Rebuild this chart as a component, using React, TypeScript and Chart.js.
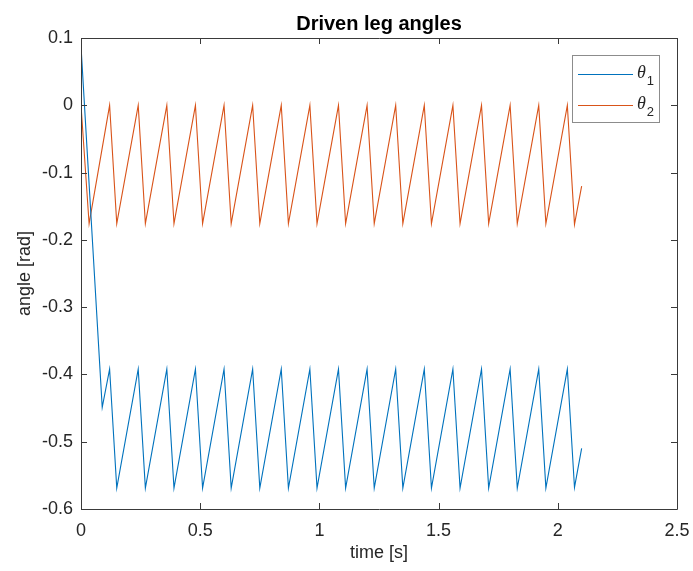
import React, { useEffect, useRef } from "react";
import { Chart, registerables } from "chart.js";

Chart.register(...registerables);

// ---- data ----
const theta1Time = [
  0, 0.089, 0.12, 0.15, 0.24, 0.27, 0.36, 0.39, 0.48, 0.51, 0.6, 0.63, 0.72, 0.75,
  0.84, 0.87, 0.96, 0.99, 1.08, 1.11, 1.2, 1.23, 1.32, 1.35, 1.44, 1.47, 1.56, 1.59,
  1.68, 1.71, 1.8, 1.83, 1.92, 1.95, 2.04, 2.07, 2.1,
];
const theta1Values = [
  0.088, -0.449, -0.392, -0.569, -0.392, -0.569, -0.392, -0.569, -0.392, -0.569,
  -0.392, -0.569, -0.392, -0.569, -0.392, -0.569, -0.392, -0.569, -0.392, -0.569,
  -0.392, -0.569, -0.392, -0.569, -0.392, -0.569, -0.392, -0.569, -0.392, -0.569,
  -0.392, -0.569, -0.392, -0.569, -0.392, -0.568, -0.51,
];
const theta2Time = [
  0, 0.034, 0.12, 0.15, 0.24, 0.27, 0.36, 0.39, 0.48, 0.51, 0.6, 0.63, 0.72, 0.75,
  0.84, 0.87, 0.96, 0.99, 1.08, 1.11, 1.2, 1.23, 1.32, 1.35, 1.44, 1.47, 1.56, 1.59,
  1.68, 1.71, 1.8, 1.83, 1.92, 1.95, 2.04, 2.07, 2.1,
];
const theta2Values = [
  0, -0.176, 0, -0.176, 0, -0.176, 0, -0.176, 0, -0.176, 0, -0.176, 0, -0.176, 0,
  -0.176, 0, -0.176, 0, -0.176, 0, -0.176, 0, -0.176, 0, -0.176, 0, -0.176, 0,
  -0.176, 0, -0.176, 0, -0.176, 0, -0.177, -0.12,
];

const xTicks = [0, 0.5, 1, 1.5, 2, 2.5];
const xTickLabels = ["0", "0.5", "1", "1.5", "2", "2.5"];
const yTicks = [-0.6, -0.5, -0.4, -0.3, -0.2, -0.1, 0, 0.1];
const yTickLabels = ["-0.6", "-0.5", "-0.4", "-0.3", "-0.2", "-0.1", "0", "0.1"];

const seriesNames = ["θ", "θ"];
const seriesSubscripts = ["1", "2"];
const seriesColors = ["#0072BD", "#D95319"];

const titleText = "Driven leg angles";
const xTitle = "time [s]";
const yTitle = "angle [rad]";

const FONT = '"Liberation Sans", Arial, Helvetica, sans-serif';
const TEXT = "#262626";

const decorPlugin = {
  id: "matlabDecor",
  afterDraw(chart: any) {
    const ctx = chart.ctx as CanvasRenderingContext2D;
    const { left, top, right, bottom } = chart.chartArea;
    const xs = chart.scales.x;
    const ys = chart.scales.y;
    ctx.save();
    // axes box
    ctx.strokeStyle = "#3a3a3a";
    ctx.lineWidth = 1;
    ctx.beginPath();
    ctx.rect(Math.round(left) + 0.5, Math.round(top) + 0.5, Math.round(right - left), Math.round(bottom - top));
    ctx.stroke();
    // inward ticks
    const tl = 6;
    ctx.beginPath();
    xTicks.forEach((v) => {
      const px = Math.round(xs.getPixelForValue(v)) + 0.5;
      ctx.moveTo(px, bottom);
      ctx.lineTo(px, bottom - tl);
      ctx.moveTo(px, top);
      ctx.lineTo(px, top + tl);
    });
    yTicks.forEach((v) => {
      const py = Math.round(ys.getPixelForValue(v)) + 0.5;
      ctx.moveTo(left, py);
      ctx.lineTo(left + tl, py);
      ctx.moveTo(right, py);
      ctx.lineTo(right - tl, py);
    });
    ctx.stroke();

    // title
    ctx.fillStyle = "#000";
    ctx.font = `bold 20px ${FONT}`;
    ctx.textAlign = "center";
    ctx.textBaseline = "alphabetic";
    ctx.fillText(titleText, (left + right) / 2, 30);

    // axis titles
    ctx.fillStyle = TEXT;
    ctx.font = `18px ${FONT}`;
    ctx.textBaseline = "middle";
    ctx.fillText(xTitle, (left + right) / 2, 553);
    ctx.save();
    ctx.translate(25, (top + bottom) / 2);
    ctx.rotate(-Math.PI / 2);
    ctx.fillText(yTitle, 0, 0);
    ctx.restore();

    // legend
    const lx = 572, ly = 55, lw = 87, lh = 67;
    ctx.fillStyle = "#fff";
    ctx.fillRect(lx, ly, lw, lh);
    ctx.strokeStyle = "#8c8c8c";
    ctx.strokeRect(lx + 0.5, ly + 0.5, lw, lh);
    const rows = [74, 105];
    seriesNames.forEach((name, i) => {
      const y = rows[i] + 0.5;
      ctx.strokeStyle = seriesColors[i];
      ctx.lineWidth = 1;
      ctx.beginPath();
      ctx.moveTo(578, y);
      ctx.lineTo(633, y);
      ctx.stroke();
      ctx.fillStyle = TEXT;
      ctx.textAlign = "left";
      ctx.textBaseline = "alphabetic";
      ctx.font = `italic 18px "Liberation Serif", "DejaVu Serif", serif`;
      ctx.fillText(name, 637, rows[i] + 4);
      const w = ctx.measureText(name).width;
      ctx.font = `13px ${FONT}`;
      ctx.fillText(seriesSubscripts[i], 637 + w + 1, rows[i] + 11);
    });
    ctx.restore();
  },
};

export default function App() {
  const ref = useRef<HTMLCanvasElement | null>(null);
  useEffect(() => {
    document.body.style.margin = "0";
    const canvas = ref.current;
    if (!canvas) return;
    const chart = new Chart(canvas, {
      type: "scatter",
      data: {
        datasets: [
          {
            label: "theta1",
            data: theta1Time.map((t, i) => ({ x: t, y: theta1Values[i] })),
            borderColor: seriesColors[0],
            backgroundColor: seriesColors[0],
            showLine: true,
            borderWidth: 1.1,
            pointRadius: 0,
            tension: 0,
          },
          {
            label: "theta2",
            data: theta2Time.map((t, i) => ({ x: t, y: theta2Values[i] })),
            borderColor: seriesColors[1],
            backgroundColor: seriesColors[1],
            showLine: true,
            borderWidth: 1.1,
            pointRadius: 0,
            tension: 0,
          },
        ],
      },
      options: {
        animation: false,
        responsive: false,
        devicePixelRatio: 1,
        layout: { padding: { left: 0, right: 16, top: 38, bottom: 0 } },
        plugins: {
          legend: { display: false },
          title: { display: false },
          tooltip: { enabled: false },
        },
        scales: {
          x: {
            type: "linear",
            min: 0,
            max: 2.5,
            afterBuildTicks: (s: any) => {
              s.ticks = xTicks.map((v) => ({ value: v }));
            },
            afterFit: (s: any) => {
              s.height = 62;
              s.paddingLeft = 0;
              s.paddingRight = 0;
            },
            ticks: {
              autoSkip: false,
              maxRotation: 0,
              padding: 11,
              color: TEXT,
              font: { size: 18, family: FONT },
              callback: (_v: any, i: number) => xTickLabels[i],
            },
            grid: { display: false, drawTicks: false },
            border: { display: false },
          },
          y: {
            type: "linear",
            min: -0.6,
            max: 0.1,
            afterBuildTicks: (s: any) => {
              s.ticks = yTicks.map((v) => ({ value: v }));
            },
            afterFit: (s: any) => {
              s.width = 81;
              s.paddingTop = 0;
              s.paddingBottom = 0;
            },
            ticks: {
              autoSkip: false,
              padding: 8,
              color: TEXT,
              font: { size: 18, family: FONT },
              callback: (_v: any, i: number) => yTickLabels[i],
            },
            grid: { display: false, drawTicks: false },
            border: { display: false },
          },
        },
      },
      plugins: [decorPlugin],
    } as any);
    return () => chart.destroy();
  }, []);
  return (
    <div style={{ position: "absolute", left: 0, top: 0, width: 693, height: 571, background: "#fff" }}>
      <canvas ref={ref} width={693} height={571} />
    </div>
  );
}
